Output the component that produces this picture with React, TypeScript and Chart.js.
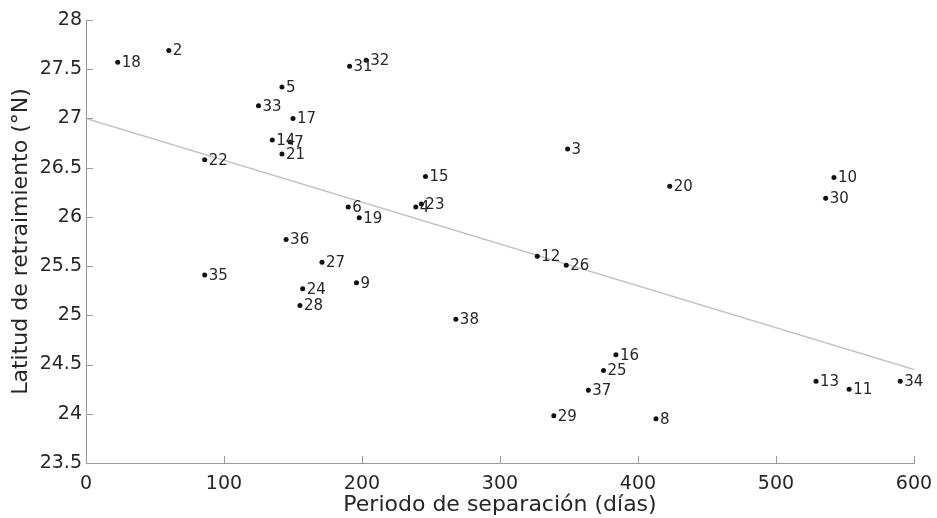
import React, { useEffect, useRef } from "react";
import { Chart, registerables } from "chart.js";

Chart.register(...registerables);

const pointIds = ["18","2","31","32","5","33","17","14","7","21","22","3","15","20","10","30","6","19","4","23","36","27","35","9","24","28","12","26","38","16","25","37","29","8","13","11","34"];
const separationDays = [23,60,191,203,142,125,150,135,148,142,86,349,246,423,542,536,190,198,239,243,145,171,86,196,157,155,327,348,268,384,375,364,339,413,529,553,590];
const latitudes = [27.57,27.69,27.53,27.59,27.32,27.13,27.0,26.78,26.76,26.64,26.58,26.69,26.41,26.31,26.4,26.19,26.1,25.99,26.1,26.13,25.77,25.54,25.41,25.33,25.27,25.1,25.6,25.51,24.96,24.6,24.44,24.24,23.98,23.95,24.33,24.25,24.33];
const trendX = [0, 600];
const trendY = [27.0, 24.45];

const xTicks = [0, 100, 200, 300, 400, 500, 600];
const yTicks = [23.5, 24, 24.5, 25, 25.5, 26, 26.5, 27, 27.5, 28];

const FONT = "'DejaVu Sans', sans-serif";
const TEXT = "#262626";
const AXIS = "#9a9a9a";

const labelPlugin = {
  id: "pointLabels",
  afterDatasetsDraw(chart: any) {
    const ctx = chart.ctx;
    const meta = chart.getDatasetMeta(0);
    ctx.save();
    ctx.font = "15px " + FONT;
    ctx.fillStyle = TEXT;
    ctx.textAlign = "left";
    ctx.textBaseline = "middle";
    meta.data.forEach((el: any, i: number) => {
      ctx.fillText(pointIds[i], el.x + 4, el.y + 1);
    });
    ctx.restore();
  },
};

const innerTicks = {
  id: "innerTicks",
  afterDraw(chart: any) {
    const ctx = chart.ctx;
    const xs = chart.scales.x;
    const ys = chart.scales.y;
    const len = 7;
    ctx.save();
    ctx.strokeStyle = AXIS;
    ctx.lineWidth = 1;
    ctx.beginPath();
    xTicks.forEach((v) => {
      const px = Math.round(xs.getPixelForValue(v)) + 0.5;
      ctx.moveTo(px, xs.top);
      ctx.lineTo(px, xs.top - len);
    });
    yTicks.forEach((v) => {
      const py = Math.round(ys.getPixelForValue(v)) + 0.5;
      ctx.moveTo(ys.right, py);
      ctx.lineTo(ys.right + len, py);
    });
    ctx.stroke();
    ctx.restore();
  },
};

export default function App() {
  const ref = useRef<HTMLCanvasElement | null>(null);
  useEffect(() => {
    if (!ref.current) return;
    const chart = new Chart(ref.current, {
      type: "scatter",
      data: {
        datasets: [
          {
            label: "puntos",
            data: separationDays.map((x, i) => ({ x, y: latitudes[i] })),
            backgroundColor: "#111",
            borderColor: "#111",
            pointRadius: 2.5,
            pointBorderWidth: 0,
            showLine: false,
          },
          {
            label: "tendencia",
            data: trendX.map((x, i) => ({ x, y: trendY[i] })),
            borderColor: "#c4c4c4",
            borderWidth: 1.5,
            pointRadius: 0,
            showLine: true,
          },
        ],
      },
      options: {
        responsive: false,
        animation: false,
        layout: { padding: { top: 20, right: 23, left: 0, bottom: 0 } },
        plugins: {
          legend: { display: false },
          tooltip: { enabled: false },
        },
        scales: {
          x: {
            type: "linear",
            min: 0,
            max: 600,
            afterFit: (s: any) => { s.height = 55; s.paddingLeft = 0; s.paddingRight = 0; },
            afterBuildTicks: (s: any) => { s.ticks = xTicks.map((v) => ({ value: v })); },
            grid: { display: false, drawTicks: false, tickLength: 0 },
            border: { display: true, color: AXIS, width: 1 },
            ticks: { color: TEXT, font: { family: FONT, size: 19 }, padding: 10, maxRotation: 0, callback: (v: any) => String(v) },
            title: {
              display: true,
              text: "Periodo de separación (días)",
              color: TEXT,
              font: { family: FONT, size: 22 },
              padding: { top: 0, bottom: 0 },
            },
          },
          y: {
            type: "linear",
            min: 23.5,
            max: 28,
            afterFit: (s: any) => { s.width = 86; s.paddingTop = 0; s.paddingBottom = 0; },
            afterBuildTicks: (s: any) => { s.ticks = yTicks.map((v) => ({ value: v })); },
            grid: { display: false, drawTicks: false, tickLength: 0 },
            border: { display: true, color: AXIS, width: 1 },
            ticks: { color: TEXT, font: { family: FONT, size: 19 }, padding: 4, callback: (v: any) => String(v) },
            title: {
              display: true,
              text: "Latitud de retraimiento (°N)",
              color: TEXT,
              font: { family: FONT, size: 22 },
              padding: { top: 8, bottom: 0 },
            },
          },
        },
      },
      plugins: [labelPlugin, innerTicks],
    });
    return () => chart.destroy();
  }, []);
  return (
    <div style={{ position: "absolute", left: 0, top: 0, width: 937, height: 518, background: "#fff" }}>
      <canvas ref={ref} width={937} height={518} style={{ display: "block" }} />
    </div>
  );
}
